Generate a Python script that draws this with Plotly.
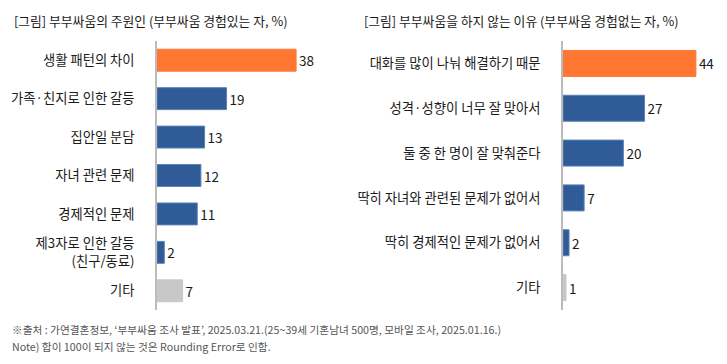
import plotly.graph_objects as go

left_title = "[그림] 부부싸움의 주원인 (부부싸움 경험있는 자, %)"
left_cats = ["생활 패턴의 차이", "가족·친지로 인한 갈등", "집안일 분담", "자녀 관련 문제",
             "경제적인 문제", "제3자로 인한 갈등<br>(친구/동료)", "기타"]
left_vals = [38, 19, 13, 12, 11, 2, 7]

right_title = "[그림] 부부싸움을 하지 않는 이유 (부부싸움 경험없는 자, %)"
right_cats = ["대화를 많이 나눠 해결하기 때문", "성격·성향이 너무 잘 맞아서", "둘 중 한 명이 잘 맞춰준다",
              "딱히 자녀와 관련된 문제가 없어서", "딱히 경제적인 문제가 없어서", "기타"]
right_vals = [44, 27, 20, 7, 2, 1]

notes = ["※출처 : 가연결혼정보, ‘부부싸움 조사 발표’, 2025.03.21.(25~39세 기혼남녀 500명, 모바일 조사, 2025.01.16.)",
         "Note) 합이 100이 되지 않는 것은 Rounding Error로 인함."]

ORANGE = "#FF7731"
BLUE = "#2F5B97"
GRAY = "#C8C8C8"

def colors(n):
    c = [BLUE] * n
    c[0] = ORANGE
    return c

lc = colors(len(left_vals)); lc[-1] = GRAY
rc = colors(len(right_vals)); rc[-1] = GRAY
lline = ["#5B82B8" if c == BLUE else c for c in lc]
rline = ["#5B82B8" if c == BLUE else c for c in rc]

FONT = "Noto Sans CJK KR"
W, H = 727, 364
TXT = "#1a1a1a"

fig = go.Figure()
fig.add_trace(go.Bar(x=left_vals, y=left_cats, orientation="h", xaxis="x", yaxis="y",
                     marker=dict(color=lc, line=dict(color=lline, width=1)),
                     width=0.57, text=left_vals, textposition="outside", cliponaxis=False,
                     textfont=dict(size=13.5, color=TXT, family=FONT), hoverinfo="skip"))
fig.add_trace(go.Bar(x=right_vals, y=right_cats, orientation="h", xaxis="x2", yaxis="y2",
                     marker=dict(color=rc, line=dict(color=rline, width=1)),
                     width=0.58, text=right_vals, textposition="outside", cliponaxis=False,
                     textfont=dict(size=13.5, color=TXT, family=FONT), hoverinfo="skip"))

y0 = (H - 310) / H
y1 = (H - 41) / H
fig.update_layout(
    width=W, height=H, margin=dict(l=0, r=0, t=0, b=0),
    paper_bgcolor="white", plot_bgcolor="white", showlegend=False,
    font=dict(family=FONT, color=TXT),
    xaxis=dict(domain=[157 / W, 340 / W], range=[0, 50], visible=False),
    yaxis=dict(domain=[y0, y1], anchor="x", autorange="reversed", showline=True,
               linecolor="#BBBBBB", linewidth=1.5, ticks="", ticklabelstandoff=18,
               tickfont=dict(size=13.3, color=TXT, family=FONT)),
    xaxis2=dict(domain=[563 / W, 714 / W], range=[0, 50], visible=False, anchor="y2"),
    yaxis2=dict(domain=[y0, y1], anchor="x2", autorange="reversed", showline=True,
                linecolor="#BBBBBB", linewidth=1.5, ticks="", ticklabelstandoff=18,
                tickfont=dict(size=13.3, color=TXT, family=FONT)),
)

ann = [
    dict(text=left_title, x=12 / W, y=(H - 20) / H, xanchor="left", yanchor="middle",
         font=dict(size=12.8, color=TXT)),
    dict(text=right_title, x=362 / W, y=(H - 20) / H, xanchor="left", yanchor="middle",
         font=dict(size=12.8, color=TXT)),
    dict(text=notes[0], x=10 / W, y=(H - 329) / H, xanchor="left", yanchor="middle",
         font=dict(size=10.7, color="#555555")),
    dict(text=notes[1], x=10 / W, y=(H - 346) / H, xanchor="left", yanchor="middle",
         font=dict(size=10.7, color="#555555")),
]
for a in ann:
    a.update(xref="paper", yref="paper", showarrow=False)
fig.update_layout(annotations=ann)

fig.write_html("out.html", config={"displayModeBar": False},
               post_script="document.body.style.margin='0';document.body.style.padding='0';")
